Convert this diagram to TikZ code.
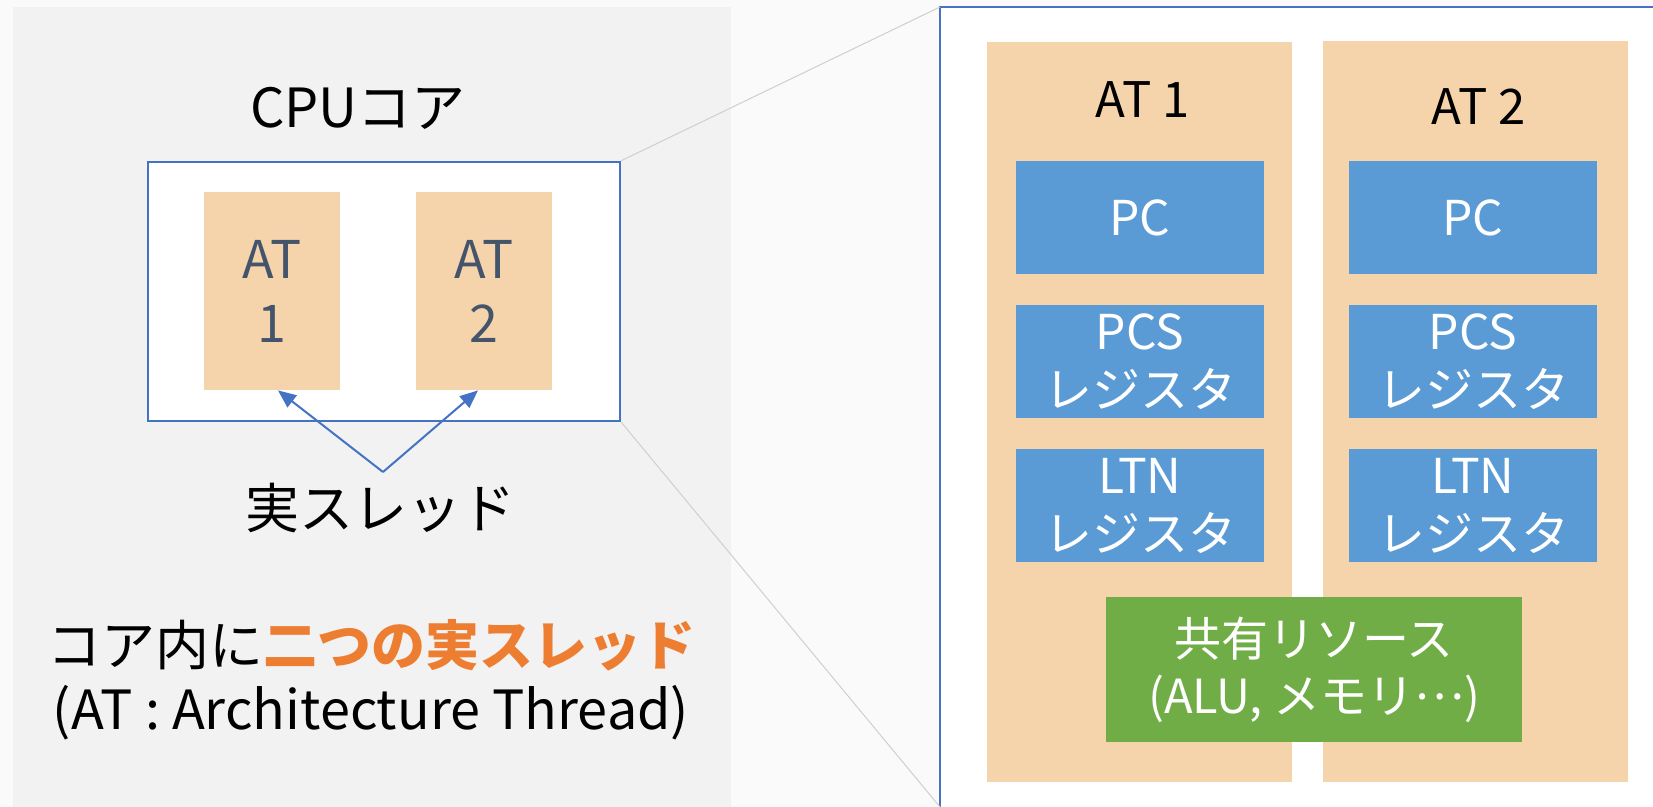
\documentclass[tikz,border=0pt]{standalone}
\usepackage{fontspec}
\setmainfont{Noto Sans CJK JP}
\usetikzlibrary{arrows.meta}

\definecolor{pagebg}{HTML}{FAFAFA}
\definecolor{panelbg}{HTML}{F2F2F2}
\definecolor{frameblue}{HTML}{4472C4}
\definecolor{peach}{HTML}{F5D4AC}
\definecolor{regblue}{HTML}{5B9BD5}
\definecolor{sharedgreen}{HTML}{70AD47}
\definecolor{slate}{HTML}{44546A}
\definecolor{accent}{HTML}{ED7D31}
\definecolor{zoomline}{HTML}{CFCFCF}

\tikzset{
  bigtext/.style={font=\fontsize{27}{32}\selectfont, align=center, inner sep=0pt},
  coreframe/.style={draw=frameblue, line width=1.3pt, fill=white,
    minimum width=236pt, minimum height=129.5pt, inner sep=0pt},
  smallthread/.style={fill=peach, minimum width=68pt, minimum height=99pt,
    inner sep=0pt, text=slate, align=center, font=\fontsize{26}{32}\selectfont},
  threadcol/.style={fill=peach, minimum width=152.5pt, minimum height=370pt, inner sep=0pt},
  collabel/.style={font=\fontsize{24.5}{30}\selectfont, inner sep=0pt},
  regbox/.style={fill=regblue, minimum width=124pt, minimum height=56.5pt,
    inner sep=0pt, text=white, align=center, font=\fontsize{24}{29}\selectfont},
  sharedbox/.style={fill=sharedgreen, minimum width=208pt, minimum height=72.5pt,
    inner sep=0pt, text=white, align=center, font=\fontsize{23.5}{28.5}\selectfont},
  pointer/.style={draw=frameblue, line width=1pt, -{Triangle[length=9pt,width=7.5pt]}},
  zoomedge/.style={draw=zoomline, line width=0.5pt},
}

\begin{document}
\begin{tikzpicture}[x=0.5pt, y=-0.5pt]
  \useasboundingbox (0,0) rectangle (1653,807);
  % page and left panel backgrounds
  \fill[pagebg] (0,0) rectangle (1653,807);
  \fill[panelbg] (13,7) rectangle (731,807);

  % enlarged view frame on the right
  \coordinate (zt) at (940,7);
  \coordinate (zb) at (940,807);
  \draw[frameblue, line width=1pt, fill=white] (zt) rectangle (1700,860);

  % left: CPU core with two threads
  \node[bigtext] (cpu) at (358,108) {CPUコア};
  \node[coreframe] (core) at (384,291.5) {};
  \node[smallthread] (at1) at (272,291) {AT\\1};
  \node[smallthread] (at2) at (484,291) {AT\\2};

  % lines linking the core to the enlarged view
  \draw[zoomedge] (core.north east) -- (zt);
  \draw[zoomedge] (core.south east) -- (zb);

  % pointers to the hardware threads
  \coordinate (apex) at (383,472);
  \draw[pointer] (apex) -- ([xshift=3pt]at1.south);
  \draw[pointer] (apex) -- ([xshift=-3pt]at2.south);
  \node[bigtext] (real) at (380,508) {実スレッド};

  \node[bigtext] (note) at (371,680) {コア内に{\color{accent}\bfseries 二つの実スレッド}\\(AT : Architecture Thread)};

  % right: thread columns
  \node[threadcol] (col1) at (1139.5,412) {};
  \node[threadcol] (col2) at (1475.5,411.5) {};
  \node[collabel] (lab1) at (1143,100) {AT 1};
  \node[collabel] (lab2) at (1479,107) {AT 2};

  \node[regbox] (pc1) at (1140,217.5) {PC};
  \node[regbox] (pc2) at (1473,217.5) {PC};
  \node[regbox] (pcs1) at (1140,361.5) {PCS\\レジスタ};
  \node[regbox] (pcs2) at (1473,361.5) {PCS\\レジスタ};
  \node[regbox] (ltn1) at (1140,505.5) {LTN\\レジスタ};
  \node[regbox] (ltn2) at (1473,505.5) {LTN\\レジスタ};

  \node[sharedbox] (shared) at (1314,669.5) {共有リソース\\(ALU, メモリ\raisebox{0.28em}{…})};
\end{tikzpicture}
\end{document}
